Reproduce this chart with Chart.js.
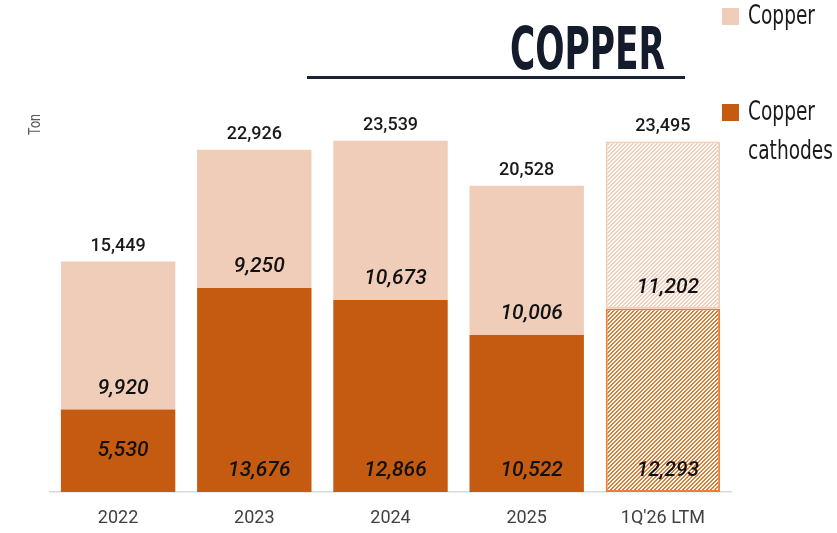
<!DOCTYPE html>
<html>
<head>
<meta charset="utf-8">
<script src="https://cdn.jsdelivr.net/npm/chart.js@4"></script>
<style>
  html, body { margin: 0; padding: 0; background: #fff; }
  #wrap { width: 837px; height: 533px; position: relative; }
</style>
</head>
<body>
<div id="wrap"><canvas id="copperChart" width="837" height="533"></canvas></div>
<script>
// chart values (tons)
const years = ['2022', '2023', '2024', '2025', "1Q'26 LTM"];
const cathodes = [5530, 13676, 12866, 10522, 12293];
const copper = [9920, 9250, 10673, 10006, 11202];
const totals = [15449, 22926, 23539, 20528, 23495];

const PEACH = '#EFCDB8';
const ORANGE = '#C55A11';

const ctx = document.getElementById('copperChart').getContext('2d');

// pixel diagonal hatch (Excel-style) used for the LTM bar
function hatch(color) {
    const c = document.createElement('canvas');
    c.width = 4; c.height = 4;
    const g = c.getContext('2d');
    g.fillStyle = '#fff';
    g.fillRect(0, 0, 4, 4);
    g.fillStyle = color;
    for (let y = 0; y < 4; y++) {
        g.fillRect((3 - y + 4) % 4, y, 1, 1);
        g.fillRect((4 - y + 4) % 4, y, 1, 1);
    }
    return ctx.createPattern(c, 'repeat');
}

const lastIdx = years.length - 1;
const cathodeFill = years.map((y, i) => i === lastIdx ? hatch('#E8772E') : ORANGE);
const copperFill = years.map((y, i) => i === lastIdx ? hatch('#F3CDB6') : PEACH);
const borderW = years.map((y, i) => i === lastIdx ? 2 : 0);

const fmt = v => v.toLocaleString('en-US');

// squeeze text horizontally to a target width (condensed look)
function squeezeText(c, text, x, y, width) {
    const w = c.measureText(text).width;
    c.save();
    c.translate(x, y);
    c.scale(width / w, 1);
    c.fillText(text, 0, 0);
    c.restore();
}

const decorPlugin = {
    id: 'decor',
    afterDatasetsDraw(chart) {
        const c = chart.ctx;
        const lower = chart.getDatasetMeta(0).data;
        const upper = chart.getDatasetMeta(1).data;
        c.save();
        c.textAlign = 'center';
        c.textBaseline = 'middle';
        c.fillStyle = '#111';
        c.font = 'italic 500 21px Roboto, sans-serif';
        [lower, upper].forEach(bars => {
            bars.forEach((bar, i) => {
                const val = (bars === lower ? cathodes : copper)[i];
                const h = bar.base - bar.y;
                const ly = h < 120 ? (bar.y + bar.base) / 2 : bar.base - 21;
                c.fillText(fmt(val), bar.x + 5, ly);
            });
        });
        c.font = '500 18px Roboto, sans-serif';
        c.fillStyle = '#1a1a1a';
        upper.forEach((bar, i) => {
            c.fillText(fmt(totals[i]), bar.x, bar.y - 15);
        });
        c.restore();
    },
    afterDraw(chart) {
        const c = chart.ctx;
        c.save();
        // title + rule
        c.fillStyle = '#141B2B';
        c.font = 'bold 58px "Liberation Sans Narrow", "DejaVu Sans Condensed", "Liberation Sans", sans-serif';
        c.textBaseline = 'alphabetic';
        c.textAlign = 'left';
        squeezeText(c, 'COPPER', 510, 69, 155);
        c.fillStyle = '#1a2233';
        c.fillRect(307, 76, 378, 3);

        // axis unit
        c.fillStyle = '#595959';
        c.font = '17px "Liberation Sans Narrow", Roboto, sans-serif';
        c.translate(36, 125);
        c.rotate(-Math.PI / 2);
        c.textAlign = 'left';
        c.textBaseline = 'middle';
        squeezeText(c, 'Ton', -10, 0, 21);
        c.restore();

        // legend
        c.save();
        c.fillStyle = PEACH;
        c.fillRect(722, 8, 17, 17);
        c.fillStyle = ORANGE;
        c.fillRect(722, 104, 17, 17);
        c.fillStyle = '#1a1a1a';
        c.font = '26px "Liberation Sans Narrow", "DejaVu Sans Condensed", Roboto, sans-serif';
        c.textBaseline = 'middle';
        c.textAlign = 'left';
        squeezeText(c, 'Copper', 748, 17, 67);
        squeezeText(c, 'Copper', 748, 113, 67);
        squeezeText(c, 'cathodes', 748, 152, 85);
        c.restore();
    }
};

new Chart(ctx, {
    type: 'bar',
    data: {
        labels: years,
        datasets: [{
            label: 'Copper cathodes',
            data: cathodes,
            backgroundColor: cathodeFill,
            borderColor: '#ED7D31',
            borderWidth: borderW,
            borderSkipped: false
        }, {
            label: 'Copper',
            data: copper,
            backgroundColor: copperFill,
            borderColor: '#F2CDB6',
            borderWidth: borderW,
            borderSkipped: false
        }]
    },
    options: {
        responsive: false,
        animation: false,
        maintainAspectRatio: false,
        layout: { padding: { top: 104, left: 50, right: 106, bottom: 0 } },
        datasets: { bar: { barPercentage: 0.84, categoryPercentage: 1 } },
        plugins: { legend: { display: false }, tooltip: { enabled: false } },
        scales: {
            x: {
                stacked: true,
                grid: { display: false, drawTicks: false },
                border: { color: '#D9D9D9', width: 1.5 },
                ticks: { color: '#404040', font: { size: 18, family: 'Roboto' }, padding: 16 },
                afterFit: s => { s.height = 41; }
            },
            y: {
                stacked: true,
                display: false,
                min: 0,
                max: 26000
            }
        }
    },
    plugins: [decorPlugin]
});
</script>
</body>
</html>
